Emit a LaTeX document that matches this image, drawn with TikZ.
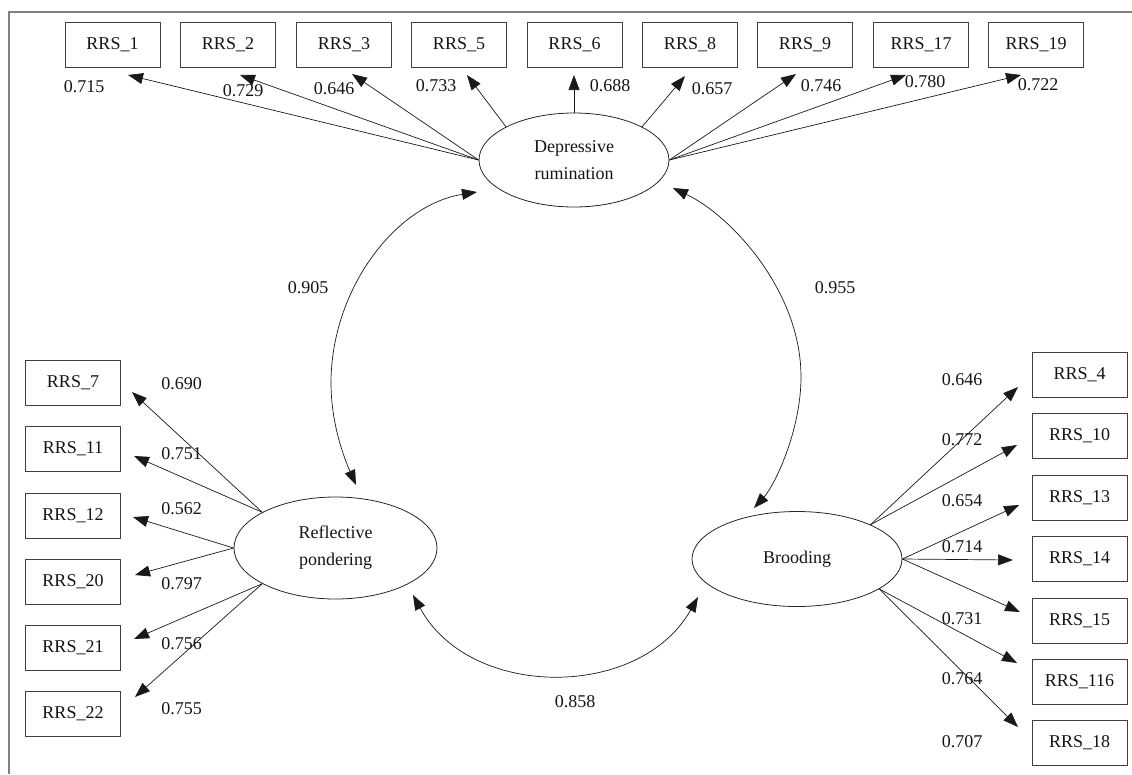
\documentclass[tikz,border=0pt]{standalone}
\usepackage{fontspec}
\setmainfont{Liberation Serif}
\usetikzlibrary{arrows.meta,shapes.geometric}
\begin{document}
\begin{tikzpicture}[x=1pt,y=-1pt,
  every node/.style={font=\fontsize{18}{27}\selectfont, text=black!92},
  obs/.style={draw=black!75, line width=0.9pt, minimum width=95pt, minimum height=45pt, inner sep=0pt},
  lat/.style={draw=black!85, line width=0.8pt, ellipse, inner sep=0pt, align=center},
  lbl/.style={inner sep=0pt},
  loadarr/.style={draw=black!90, line width=0.7pt, -{Triangle[length=15pt,width=11pt]}},
  cov/.style={draw=black!90, line width=0.7pt, {Triangle[length=15pt,width=11pt]}-{Triangle[length=15pt,width=11pt]}},
  frameline/.style={draw=black!50, line width=1.3pt}
]
\useasboundingbox (0,0) rectangle (1132,774);
\draw[frameline] (9,774) -- (9,12) -- (1132,12);

% latent variables
\node[lat, minimum width=190pt, minimum height=94pt] (dr) at (574,160) {Depressive\\rumination};
\node[lat, minimum width=203pt, minimum height=102pt] (rp) at (335.5,548) {Reflective\\pondering};
\node[lat, minimum width=210pt, minimum height=95pt] (br) at (797,559) {Brooding};

% top observed
\node[obs] (o1) at (112.5,44.5) {RRS\_1};
\node[obs] (o2) at (228,44.5) {RRS\_2};
\node[obs] (o3) at (344,44.5) {RRS\_3};
\node[obs] (o5) at (459,44.5) {RRS\_5};
\node[obs] (o6) at (574.5,44.5) {RRS\_6};
\node[obs] (o8) at (690,44.5) {RRS\_8};
\node[obs] (o9) at (805,44.5) {RRS\_9};
\node[obs] (o17) at (921,44.5) {RRS\_17};
\node[obs] (o19) at (1036,44.5) {RRS\_19};

% left observed
\node[obs] (o7) at (73,383) {RRS\_7};
\node[obs] (o11) at (73,449) {RRS\_11};
\node[obs] (o12) at (73,515.5) {RRS\_12};
\node[obs] (o20) at (73,581.5) {RRS\_20};
\node[obs] (o21) at (73,647.5) {RRS\_21};
\node[obs] (o22) at (73,713.5) {RRS\_22};

% right observed
\node[obs] (o4) at (1079.5,374.5) {RRS\_4};
\node[obs] (o10) at (1079.5,435.5) {RRS\_10};
\node[obs] (o13) at (1079.5,497.5) {RRS\_13};
\node[obs] (o14) at (1079.5,559) {RRS\_14};
\node[obs] (o15) at (1079.5,620.5) {RRS\_15};
\node[obs] (o116) at (1079.5,681.5) {RRS\_116};
\node[obs] (o18) at (1079.5,743) {RRS\_18};

% arrow end points (near the boxes)
\coordinate (t1) at (128,75);
\coordinate (t2) at (240,75);
\coordinate (t3) at (352,74);
\coordinate (t5) at (467,75);
\coordinate (t6) at (574,75);
\coordinate (t8) at (685,76);
\coordinate (t9) at (796,74);
\coordinate (t17) at (906,75);
\coordinate (t19) at (1021,75);

\coordinate (t7) at (132,392);
\coordinate (t11) at (134,456);
\coordinate (t12) at (133,517);
\coordinate (t20) at (135,575);
\coordinate (t21) at (134,639);
\coordinate (t22) at (135,697);

\coordinate (t4) at (1018,387);
\coordinate (t10) at (1017,445);
\coordinate (t13) at (1019,505);
\coordinate (t14) at (1013,560);
\coordinate (t15) at (1020,612);
\coordinate (t116) at (1017,663);
\coordinate (t18) at (1018,727);

% loadings depressive rumination
\draw[loadarr] (dr.west) -- (t1);
\draw[loadarr] (dr.west) -- (t2);
\draw[loadarr] (dr.west) -- (t3);
\draw[loadarr] (dr.154) -- (t5);
\draw[loadarr] (dr.north) -- (t6);
\draw[loadarr] (dr.26) -- (t8);
\draw[loadarr] (dr.east) -- (t9);
\draw[loadarr] (dr.east) -- (t17);
\draw[loadarr] (dr.east) -- (t19);

% loadings reflective pondering
\draw[loadarr] (rp.154) -- (t7);
\draw[loadarr] (rp.154) -- (t11);
\draw[loadarr] (rp.west) -- (t12);
\draw[loadarr] (rp.west) -- (t20);
\draw[loadarr] (rp.206) -- (t21);
\draw[loadarr] (rp.206) -- (t22);

% loadings brooding
\draw[loadarr] (br.25) -- (t4);
\draw[loadarr] (br.25) -- (t10);
\draw[loadarr] (br.east) -- (t13);
\draw[loadarr] (br.east) -- (t14);
\draw[loadarr] (br.east) -- (t15);
\draw[loadarr] (br.-20) -- (t116);
\draw[loadarr] (br.-20) -- (t18);

% covariances
\coordinate (c1a) at (477,192);
\coordinate (c1b) at (356,485);
\coordinate (c2a) at (673,188);
\coordinate (c2b) at (754,508);
\coordinate (c3a) at (413,595);
\coordinate (c3b) at (698,597);
\draw[cov] (c1a) .. controls (395,205) and (331,290) .. (331,383) .. controls (331,425) and (345,460) .. (c1b);
\draw[cov] (c2a) .. controls (730,215) and (801,290) .. (801,377) .. controls (801,430) and (775,485) .. (c2b);
\draw[cov] (c3a) .. controls (470,700) and (640,700) .. (c3b);

% loading labels top
\node[lbl] at (84,87) {0.715};
\node[lbl] at (243,91) {0.729};
\node[lbl] at (334,89) {0.646};
\node[lbl] at (436,86) {0.733};
\node[lbl] at (610,86) {0.688};
\node[lbl] at (712,89) {0.657};
\node[lbl] at (821,86) {0.746};
\node[lbl] at (925,82) {0.780};
\node[lbl] at (1038,85) {0.722};

% loading labels left
\node[lbl] at (181.5,384) {0.690};
\node[lbl] at (181.5,454) {0.751};
\node[lbl] at (181.5,509) {0.562};
\node[lbl] at (181.5,584) {0.797};
\node[lbl] at (181.5,644) {0.756};
\node[lbl] at (181.5,709) {0.755};

% loading labels right
\node[lbl] at (962,380) {0.646};
\node[lbl] at (962,440) {0.772};
\node[lbl] at (962,501) {0.654};
\node[lbl] at (962,547) {0.714};
\node[lbl] at (962,619) {0.731};
\node[lbl] at (962,679) {0.764};
\node[lbl] at (962,742) {0.707};

% covariance labels
\node[lbl] at (308,288) {0.905};
\node[lbl] at (835,288) {0.955};
\node[lbl] at (575,702) {0.858};
\end{tikzpicture}
\end{document}
